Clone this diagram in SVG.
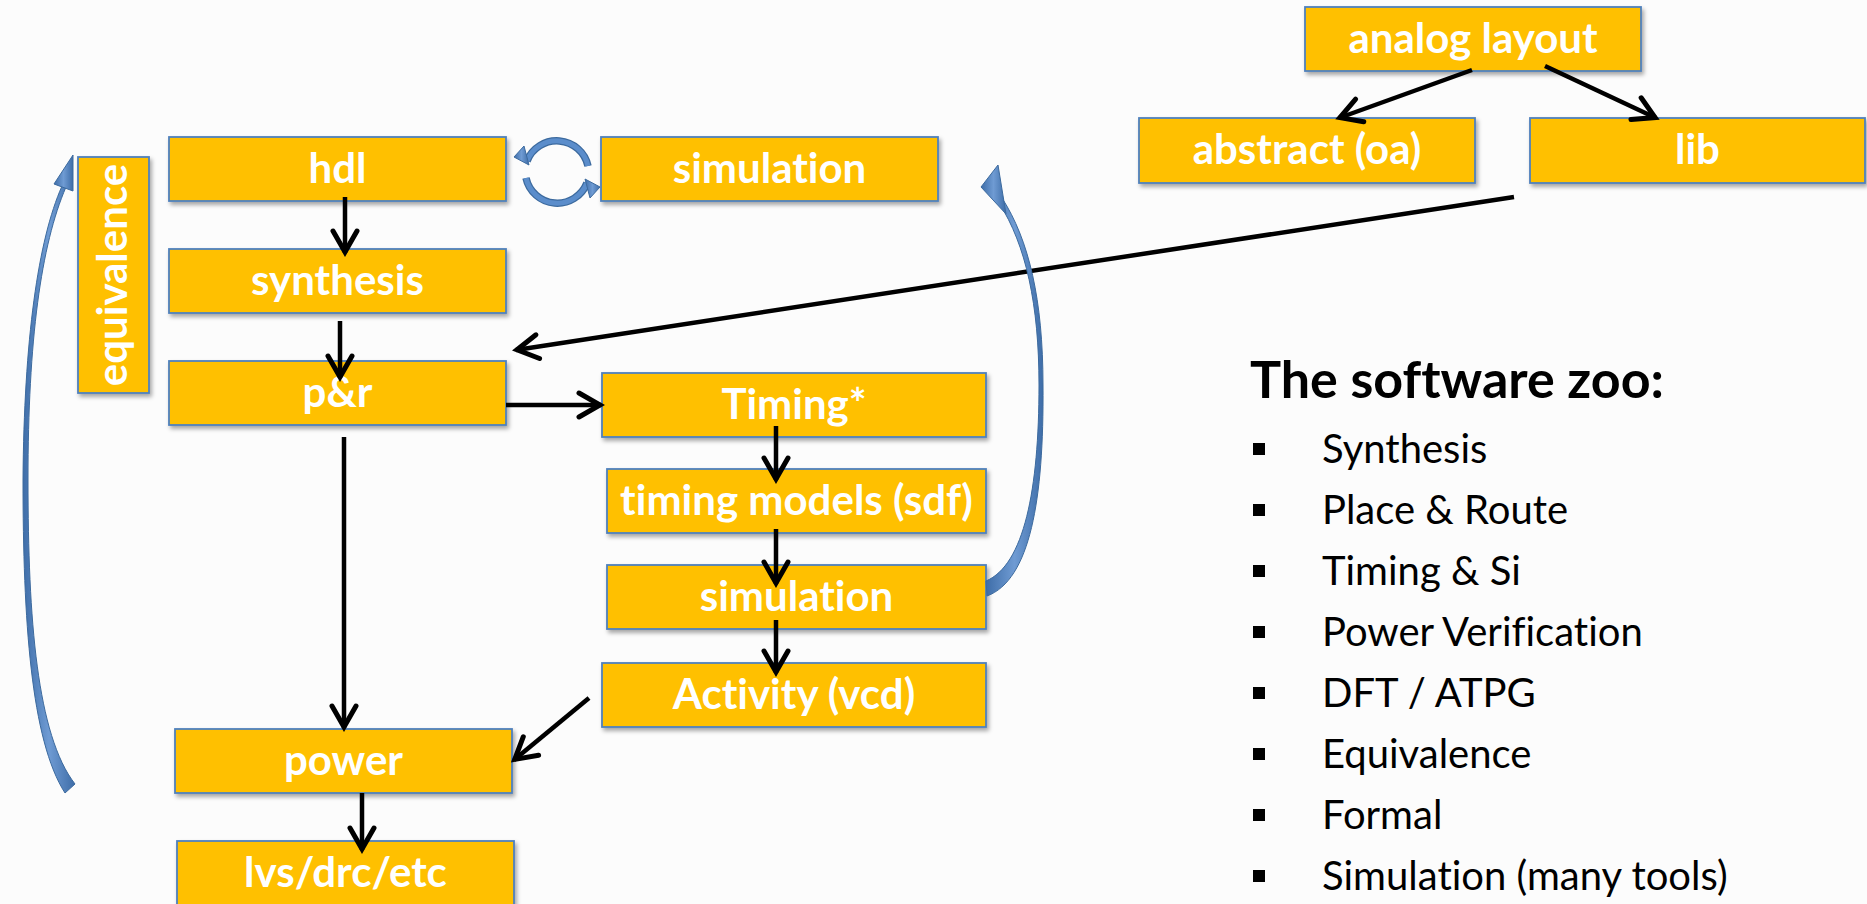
<svg xmlns="http://www.w3.org/2000/svg" width="1867" height="904" viewBox="0 0 1867 904">
  <style>
    text { font-variant-ligatures: none; font-feature-settings: "liga" 0; }
    .box { fill: #FFC000; stroke: #4F81BD; stroke-width: 1.8; filter: url(#shadow); }
    .lbl { font-family: Lato, "Liberation Sans", sans-serif; font-weight: bold; font-size: 42px; fill: #FFFFFF; text-anchor: middle; }
    .edge { fill: none; stroke: #000000; stroke-width: 4.5; marker-end: url(#open); }
    .blue { fill: url(#blueGrad); stroke: #3C6A9E; stroke-width: 1; }
    .ring { fill: none; stroke: #5B8DCB; stroke-width: 5; }
    .ring-edge { fill: none; stroke: #3C6A9E; stroke-width: 7.5; }
    .title { font-family: Lato, "Liberation Sans", sans-serif; font-weight: bold; font-size: 52px; fill: #000000; }
    .item { font-family: Lato, "Liberation Sans", sans-serif; font-size: 40px; fill: #000000; }
  </style>
  <defs>
    <filter id="shadow" x="-10%" y="-20%" width="125%" height="150%">
      <feDropShadow dx="2" dy="3" stdDeviation="2" flood-color="#000000" flood-opacity="0.35"/>
    </filter>
    <linearGradient id="blueGrad" x1="0" y1="0" x2="1" y2="0">
      <stop offset="0" stop-color="#3E6DA8"/>
      <stop offset="0.5" stop-color="#6F9BD3"/>
      <stop offset="1" stop-color="#3E6DA8"/>
    </linearGradient>
    <marker id="open" markerUnits="userSpaceOnUse" markerWidth="32" markerHeight="32" viewBox="-28 -16 32 32" refX="0" refY="0" orient="auto">
      <path d="M-22,-12 L-1,0 L-22,12" fill="none" stroke="#000000" stroke-width="5" stroke-linecap="round" stroke-linejoin="miter"/>
    </marker>
  </defs>

  <rect x="0" y="0" width="1867" height="904" fill="#FCFCFC"/>

  <!-- flow nodes -->
  <g id="n-hdl"><rect class="box" x="169" y="137" width="337" height="64"/><text class="lbl" x="337.5" y="183">hdl</text></g>
  <g id="n-synthesis"><rect class="box" x="169" y="249" width="337" height="64"/><text class="lbl" x="337.5" y="295">synthesis</text></g>
  <g id="n-pr"><rect class="box" x="169" y="361" width="337" height="64"/><text class="lbl" x="337.5" y="407">p&amp;r</text></g>
  <g id="n-equivalence"><rect class="box" x="78" y="157" width="71" height="236"/><text class="lbl" transform="translate(127,275) rotate(-90)" x="0" y="0">equivalence</text></g>
  <g id="n-simulation-rtl"><rect class="box" x="601" y="137" width="337" height="64"/><text class="lbl" x="769.5" y="183">simulation</text></g>
  <g id="n-timing"><rect class="box" x="602" y="373" width="384" height="64"/><text class="lbl" x="794" y="419">Timing*</text></g>
  <g id="n-sdf"><rect class="box" x="607" y="469" width="379" height="64"/><text class="lbl" x="796.5" y="515">timing models (sdf)</text></g>
  <g id="n-simulation-gate"><rect class="box" x="607" y="565" width="379" height="64"/><text class="lbl" x="796.5" y="611">simulation</text></g>
  <g id="n-activity"><rect class="box" x="602" y="663" width="384" height="64"/><text class="lbl" x="794" y="709">Activity (vcd)</text></g>
  <g id="n-power"><rect class="box" x="175" y="729" width="337" height="64"/><text class="lbl" x="343.5" y="775">power</text></g>
  <g id="n-lvs"><rect class="box" x="177" y="841" width="337" height="64"/><text class="lbl" x="345.5" y="887">lvs/drc/etc</text></g>
  <g id="n-analog"><rect class="box" x="1305" y="7" width="336" height="64"/><text class="lbl" x="1473" y="53">analog layout</text></g>
  <g id="n-abstract"><rect class="box" x="1139" y="118" width="336" height="65"/><text class="lbl" x="1307" y="164">abstract (oa)</text></g>
  <g id="n-lib"><rect class="box" x="1530" y="118" width="335" height="65"/><text class="lbl" x="1697.5" y="164">lib</text></g>

  <!-- connectors -->
  <g id="connectors">
    <line class="edge" x1="345" y1="197" x2="345" y2="253"/>
    <line class="edge" x1="340" y1="321" x2="340" y2="378"/>
    <line class="edge" x1="506" y1="405" x2="601" y2="405"/>
    <line class="edge" x1="344" y1="437" x2="344" y2="728"/>
    <line class="edge" x1="776" y1="426" x2="776" y2="480"/>
    <line class="edge" x1="776" y1="529" x2="776" y2="584"/>
    <line class="edge" x1="776" y1="620" x2="776" y2="673"/>
    <line class="edge" x1="589" y1="698" x2="514" y2="760"/>
    <line class="edge" x1="362" y1="793" x2="362" y2="850"/>
    <line class="edge" x1="1472" y1="70" x2="1339" y2="118"/>
    <line class="edge" x1="1545" y1="66" x2="1656" y2="118"/>
    <line class="edge" x1="1514" y1="197" x2="516" y2="350"/>

    <!-- equivalence feedback arc -->
    <path class="blue" d="M62,186 C38,240 24,340 23,480 C23,620 31,740 65,793 L75,784 C37,735 28,620 28,480 C28,340 41,245 66,187 Z"/>
    <path class="blue" d="M73,155 L54,184 L73,191 Z"/>

    <!-- gate-level simulation back to rtl simulation -->
    <path class="blue" d="M1002,198 C1029,240 1043,300 1043,385 C1044,500 1030,580 987,596 L986,581 C1024,565 1039,490 1039,385 C1039,305 1026,245 999,203 Z"/>
    <path class="blue" d="M998,165 L981,187 L1006,214 Z"/>

    <!-- hdl / simulation loop -->
    <path class="ring-edge" d="M588,166 A32,32 0 0 0 527,161"/>
    <path class="ring" d="M588,166 A32,32 0 0 0 527,161"/>
    <path class="blue" d="M514,157 L524,146 L529,165 Z"/>
    <path class="ring-edge" d="M526,178 A32,32 0 0 0 587,183"/>
    <path class="ring" d="M526,178 A32,32 0 0 0 587,183"/>
    <path class="blue" d="M600,187 L590,198 L585,179 Z"/>
  </g>

  <!-- tool list -->
  <g id="software-zoo">
    <text class="title" x="1250" y="398">The software zoo:</text>
    <g fill="#000000">
      <rect x="1253" y="443" width="12" height="12"/>
      <rect x="1253" y="504" width="12" height="12"/>
      <rect x="1253" y="565" width="12" height="12"/>
      <rect x="1253" y="626" width="12" height="12"/>
      <rect x="1253" y="687" width="12" height="12"/>
      <rect x="1253" y="748" width="12" height="12"/>
      <rect x="1253" y="809" width="12" height="12"/>
      <rect x="1253" y="870" width="12" height="12"/>
    </g>
    <text class="item" x="1322" y="463">Synthesis</text>
    <text class="item" x="1322" y="524">Place &amp; Route</text>
    <text class="item" x="1322" y="585">Timing &amp; Si</text>
    <text class="item" x="1322" y="646">Power Verification</text>
    <text class="item" x="1322" y="707">DFT / ATPG</text>
    <text class="item" x="1322" y="768">Equivalence</text>
    <text class="item" x="1322" y="829">Formal</text>
    <text class="item" x="1322" y="890">Simulation (many tools)</text>
  </g>
</svg>
